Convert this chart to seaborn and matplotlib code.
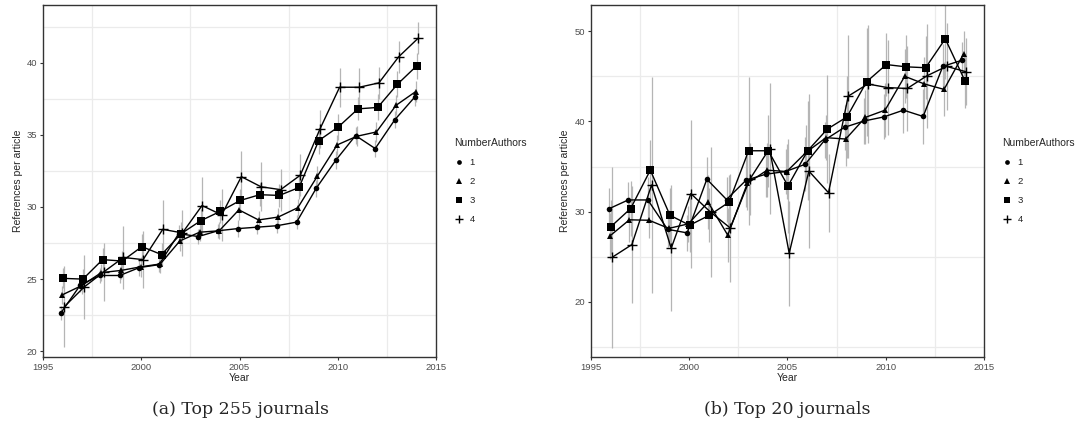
import numpy as np
import pandas as pd
import matplotlib
matplotlib.use("Agg")
import matplotlib.pyplot as plt
from matplotlib.lines import Line2D
import seaborn as sns

years = list(range(1996, 2015))
groups = ["1", "2", "3", "4"]

# Top 255 journals: mean references per article by number of authors
top255_mean = {
    "1": [22.65, 24.6, 25.25, 25.25, 25.8, 26.0, 28.15, 27.95, 28.35, 28.5, 28.6, 28.7, 28.95, 31.3, 33.25, 34.95, 34.05, 36.05, 37.6],
    "2": [23.9, 24.55, 25.45, 25.6, 25.85, 26.05, 27.65, 28.25, 28.35, 29.8, 29.1, 29.3, 29.95, 32.15, 34.3, 34.9, 35.2, 37.05, 38.0],
    "3": [25.05, 25.0, 26.35, 26.25, 27.25, 26.7, 28.15, 29.05, 29.7, 30.45, 30.85, 30.8, 31.35, 34.6, 35.55, 36.8, 36.9, 38.5, 39.8],
    "4": [23.1, 24.45, 25.5, 26.5, 26.35, 28.45, 28.2, 30.1, 29.45, 32.1, 31.4, 31.2, 32.2, 35.4, 38.3, 38.3, 38.6, 40.4, 41.7],
}
top255_err = {
    "1": [0.5, 0.5, 0.5, 0.5, 0.6, 0.5, 0.6, 0.5, 0.5, 0.6, 0.5, 0.5, 0.5, 0.6, 0.6, 0.6, 0.6, 0.6, 0.6],
    "2": [0.6, 0.6, 0.6, 0.6, 0.7, 0.6, 0.7, 0.6, 0.6, 0.7, 0.6, 0.6, 0.6, 0.7, 0.7, 0.7, 0.7, 0.7, 0.7],
    "3": [0.7, 0.7, 0.8, 0.7, 0.9, 0.8, 0.8, 0.8, 0.8, 0.8, 0.8, 0.8, 0.8, 0.9, 0.9, 0.8, 0.9, 0.9, 0.9],
    "4": [2.8, 2.2, 2.0, 2.2, 2.0, 2.0, 1.6, 2.0, 1.8, 1.8, 1.7, 1.45, 1.45, 1.3, 1.35, 1.35, 1.1, 1.1, 1.1],
}

# Top 20 journals
top20_mean = {
    "1": [30.3, 31.3, 31.3, 28.05, 27.65, 33.6, 31.35, 33.5, 34.15, 34.45, 35.25, 37.95, 39.35, 40.05, 40.5, 41.25, 40.55, 46.1, 46.8],
    "2": [27.3, 29.1, 29.05, 28.15, 28.65, 31.05, 27.4, 33.15, 34.6, 34.45, 36.6, 38.2, 38.05, 40.45, 41.25, 45.0, 44.15, 43.55, 47.5],
    "3": [28.35, 30.35, 34.6, 29.6, 28.5, 29.6, 31.05, 36.75, 36.75, 32.85, 36.75, 39.15, 40.5, 44.4, 46.3, 46.05, 45.95, 49.15, 44.5],
    "4": [24.95, 26.35, 32.95, 25.95, 32.0, 29.95, 28.2, 33.6, 37.0, 25.4, 34.5, 32.1, 42.8, 44.15, 43.75, 43.65, 45.05, 46.1, 45.5],
}
top20_err = {
    "1": [2.3, 2.0, 2.5, 2.0, 2.0, 2.5, 2.5, 3.0, 2.5, 2.5, 3.0, 2.0, 2.5, 2.5, 2.5, 2.5, 3.0, 2.5, 2.0],
    "2": [2.5, 2.5, 2.0, 2.0, 2.0, 3.0, 3.0, 3.0, 3.0, 3.0, 3.0, 2.5, 3.0, 3.0, 3.0, 3.0, 3.0, 3.0, 2.5],
    "3": [3.0, 3.0, 3.3, 3.0, 3.0, 3.0, 3.0, 8.2, 4.0, 5.2, 5.5, 6.0, 4.5, 6.0, 3.5, 3.5, 3.5, 4.5, 3.0],
    "4": [10.0, 6.5, 12.0, 7.0, 8.2, 7.2, 6.0, 4.0, 7.3, 5.8, 8.5, 4.3, 6.8, 6.5, 5.3, 4.7, 5.8, 4.8, 3.7],
}

markers = {"1": "o", "2": "^", "3": "s", "4": "+"}
marker_sizes = {"1": 4.0, "2": 4.8, "3": 5.2, "4": 7.5}
dodge_width = 0.25


def long_frame(means, errs):
    rows = []
    for gi, g in enumerate(groups):
        off = (gi - 1.5) * dodge_width / 4
        for yr, m, e in zip(years, means[g], errs[g]):
            rows.append({"Year": yr + off, "refs": m, "se": e, "NumberAuthors": g})
    return pd.DataFrame(rows)


sns.set_theme(style="white")
plt.rcParams["font.family"] = ["Liberation Sans", "DejaVu Sans"]

fig = plt.figure(figsize=(10.9, 4.37), dpi=100)
W, H = 1090, 437
ax_a = fig.add_axes([43 / W, (H - 357) / H, 393 / W, 352 / H])
ax_b = fig.add_axes([590.7 / W, (H - 357) / H, 393.3 / W, 352 / H])

panels = [
    (ax_a, long_frame(top255_mean, top255_err), (19.6, 44.0), [20, 25, 30, 35, 40], [22.5, 27.5, 32.5, 37.5, 42.5]),
    (ax_b, long_frame(top20_mean, top20_err), (13.9, 52.9), [20, 30, 40, 50], [15, 25, 35, 45]),
]

for ax, df, ylim, yticks, yminor in panels:
    for xm in [1997.5, 2002.5, 2007.5, 2012.5]:
        ax.axvline(xm, color="#ebebeb", lw=0.9, zorder=0)
    for ym in yminor:
        ax.axhline(ym, color="#ebebeb", lw=0.9, zorder=0)
    ax.vlines(df["Year"], df["refs"] - df["se"], df["refs"] + df["se"],
              color="#b5b5b5", lw=0.9, zorder=1)
    for g in groups:
        sub = df[df["NumberAuthors"] == g]
        sns.lineplot(data=sub, x="Year", y="refs", ax=ax, color="black", lw=1.0,
                     marker=markers[g],
                     markersize=marker_sizes[g],
                     markeredgewidth=1.0 if g == "4" else 0.0,
                     markerfacecolor="black", markeredgecolor="black",
                     legend=False, zorder=3, errorbar=None)
    ax.set_xlim(1995, 2015)
    ax.set_ylim(*ylim)
    ax.set_xticks([1995, 2000, 2005, 2010, 2015])
    ax.set_yticks(yticks)
    ax.tick_params(axis="both", which="major", labelsize=6.8, labelcolor="#4d4d4d",
                   length=2.5, width=0.8, color="#333333", pad=1.5,
                   bottom=True, left=True)
    for sp in ax.spines.values():
        sp.set_color("#333333")
        sp.set_linewidth(1.0)
    ax.set_xlabel("Year", fontsize=7.5, labelpad=1)
    ax.set_ylabel("References per article", fontsize=7.5, labelpad=3)

    handles = []
    for g in groups:
        handles.append(Line2D([], [], ls="none", color="black",
                              marker=markers[g],
                              markersize=marker_sizes[g] * 0.85,
                              markeredgewidth=1.0 if g == "4" else 0.0))
    leg = ax.legend(handles, groups, title="NumberAuthors", loc="center left",
                    bbox_to_anchor=(1.025, 0.50), frameon=False, fontsize=6.8,
                    title_fontsize=7.5, handlelength=1.0, handletextpad=0.6,
                    labelspacing=1.05, alignment="left")
    for t in leg.get_texts():
        t.set_color("#222222")

fig.text(240 / W, (H - 410) / H, "(a) Top 255 journals", ha="center", va="center",
         fontsize=12.5, family=["DejaVu Serif"])
fig.text(787 / W, (H - 410) / H, "(b) Top 20 journals", ha="center", va="center",
         fontsize=12.5, family=["DejaVu Serif"])

fig.savefig("out.png", dpi=100)
